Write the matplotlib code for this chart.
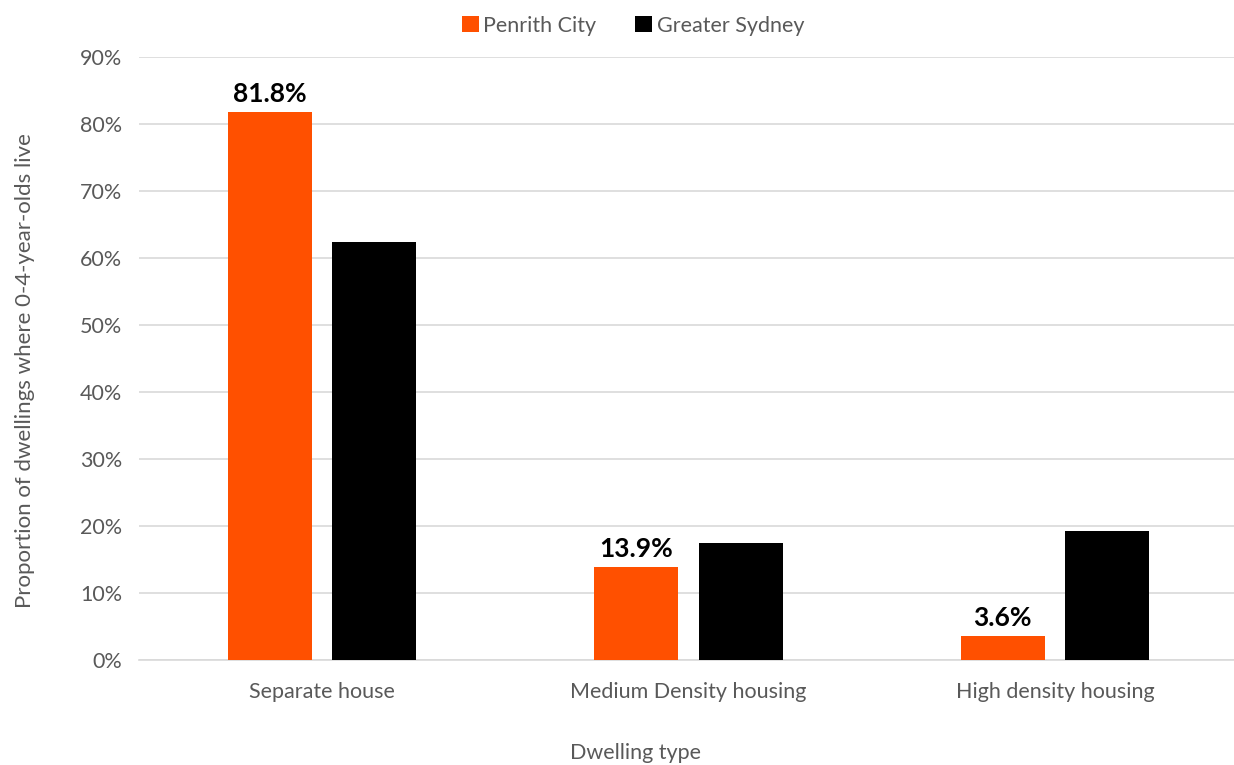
import numpy as np
import matplotlib.pyplot as plt
from matplotlib.ticker import PercentFormatter

categories = ['Separate house', 'Medium Density housing', 'High density housing']
penrith = [81.8, 13.9, 3.6]
sydney = [62.4, 17.5, 19.3]
penrith_labels = ['81.8%', '13.9%', '3.6%']

plt.rcParams['font.family'] = ['Lato', 'DejaVu Sans']

fig = plt.figure(figsize=(12.34, 7.65), dpi=100)
ax = fig.add_axes([0.1124, 0.137, 0.891, 0.7885])

x = np.arange(len(categories))
w = 0.229
off = 0.143
b1 = ax.bar(x - off, penrith, w, color='#FF5000', label='Penrith City', zorder=3)
b2 = ax.bar(x + off, sydney, w, color='#000000', label='Greater Sydney', zorder=3)

for rect, lab in zip(b1, penrith_labels):
    ax.text(rect.get_x() + rect.get_width() / 2, rect.get_height() + 0.9, lab,
            ha='center', va='bottom', fontsize=19, fontweight='bold', color='black')

ax.set_xlim(-0.5, 2.5)
ax.set_ylim(0, 90)
ax.set_yticks(np.arange(0, 91, 10))
ax.yaxis.set_major_formatter(PercentFormatter(decimals=0))
ax.set_xticks(x)
ax.set_xticklabels(categories)
ax.tick_params(axis='both', length=0, labelsize=15.5, labelcolor='#595959')
ax.tick_params(axis='x', pad=16)
ax.tick_params(axis='y', pad=12)

ax.grid(axis='y', color='#d9d9d9', linewidth=1.2, zorder=0)
for s in ['top', 'right', 'left']:
    ax.spines[s].set_visible(False)
ax.spines['bottom'].set_color('#d9d9d9')
ax.spines['bottom'].set_linewidth(1.2)

ax.set_xlabel('Dwelling type', fontsize=15.5, color='#595959')
ax.xaxis.set_label_coords(0.452, -0.138)
ax.set_ylabel('Proportion of dwellings where 0-4-year-olds live', fontsize=16,
              color='#595959')
ax.yaxis.set_label_coords(-0.094, 0.48)

fig.legend(handles=[b1, b2], loc='upper center', bbox_to_anchor=(0.513, 1.005), ncol=2,
           frameon=False, fontsize=15.5, labelcolor='#595959', handlelength=0.8,
           handleheight=0.8, handletextpad=0.2, columnspacing=1.8)

fig.savefig('out.png', dpi=100)
